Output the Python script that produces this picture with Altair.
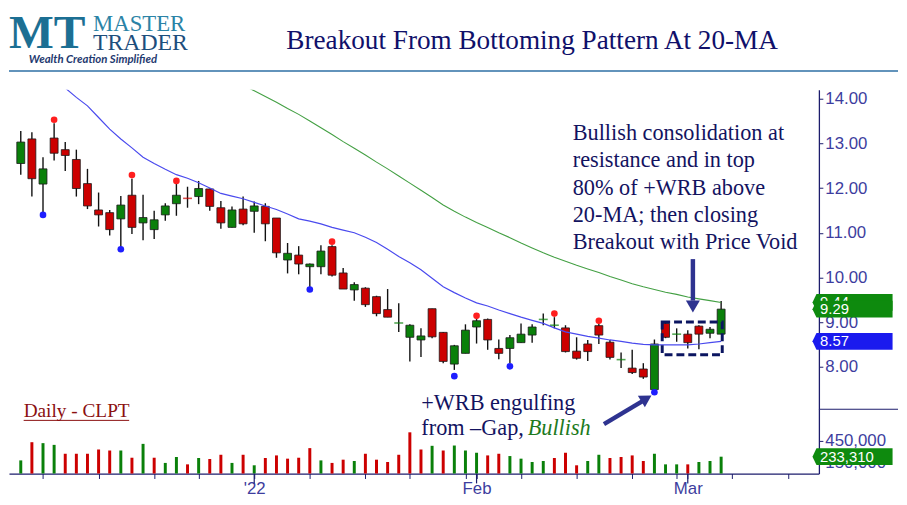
import json
import altair as alt
import pandas as pd

# ---------------- data (bar 0 = 2 Dec 2021 ... bar 63 = 4 Mar 2022) ----------------
idx = list(range(64))
opens = [12.55, 13.10, 12.09, 13.12, 12.86, 12.64, 12.10, 11.51, 11.45, 11.31,
         11.84, 11.22, 11.07, 11.40, 11.65, 11.77, 11.81, 11.98, 11.56, 11.12,
         11.53, 11.48, 11.59, 11.33, 10.39, 10.50, 10.24, 10.24, 10.69, 10.10,
         9.72, 9.76, 9.57, 9.28, 8.98, 8.66, 8.60, 9.30, 8.77, 8.06,
         8.30, 8.89, 9.06, 8.41, 8.41, 8.54, 8.71, 9.06, 8.93, 8.87,
         8.35, 8.51, 8.92, 8.55, 8.16, 7.97, 7.95, 7.49, 8.97, 8.73,
         8.73, 8.91, 8.75, 8.73]
highs = [13.28, 13.25, 12.69, 13.45, 13.03, 12.86, 12.43, 11.90, 11.51, 11.82,
         12.21, 11.85, 11.49, 11.66, 12.10, 12.03, 12.16, 11.99, 11.71, 11.59,
         11.81, 11.70, 11.66, 11.33, 10.77, 10.70, 10.31, 10.72, 10.72, 10.21,
         9.89, 9.78, 9.59, 9.74, 9.42, 8.95, 8.86, 9.30, 8.78, 8.49,
         8.95, 9.09, 9.08, 8.61, 8.71, 8.97, 8.95, 9.19, 9.11, 8.93,
         8.66, 8.60, 8.97, 8.60, 8.32, 8.38, 8.08, 8.61, 9.00, 8.86,
         8.82, 8.93, 8.89, 9.47]
lows = [12.30, 11.81, 11.40, 12.62, 12.38, 11.81, 11.53, 11.14, 10.94, 10.63,
        10.97, 10.83, 10.86, 11.27, 11.38, 11.56, 11.64, 11.49, 11.09, 11.12,
        11.17, 11.00, 10.81, 10.44, 10.09, 10.07, 9.78, 10.07, 10.02, 9.74,
        9.48, 9.34, 9.13, 9.11, 8.78, 8.12, 8.22, 8.64, 8.08, 7.93,
        8.30, 8.52, 8.38, 8.17, 8.08, 8.54, 8.54, 8.93, 8.86, 8.32,
        8.16, 8.13, 8.51, 8.16, 7.97, 7.84, 7.73, 7.45, 8.64, 8.56,
        8.41, 8.39, 8.64, 8.73]
closes = [13.03, 12.21, 12.43, 12.78, 12.73, 11.99, 11.60, 11.40, 11.07, 11.62,
          11.12, 11.34, 11.29, 11.60, 11.84, 11.77, 11.99, 11.59, 11.22, 11.51,
          11.20, 11.60, 11.20, 10.55, 10.54, 10.30, 10.30, 10.59, 10.05, 9.74,
          9.84, 9.39, 9.19, 9.11, 8.98, 8.93, 8.69, 8.67, 8.12, 8.47,
          8.82, 9.03, 8.60, 8.30, 8.65, 8.73, 8.89, 9.06, 8.93, 8.34,
          8.19, 8.34, 8.71, 8.21, 8.16, 7.87, 7.77, 8.51, 8.66, 8.73,
          8.54, 8.73, 8.84, 9.29]
doji_red = [15]  # doji crosses drawn in red

volumes = [182000, 434000, 421000, 397000, 274000, 274000, 274000, 333000, 319000, 319000,
           219000, 411000, 219000, 147000, 229000, 127000, 215000, 201000, 260000, 147000,
           260000, 114000, 215000, 251000, 206000, 219000, 352000, 182000, 147000, 192000,
           174000, 274000, 192000, 160000, 260000, 571000, 333000, 384000, 319000, 388000,
           319000, 288000, 251000, 274000, 242000, 206000, 160000, 174000, 215000, 288000,
           114000, 174000, 260000, 215000, 229000, 251000, 174000, 274000, 127000, 127000,
           127000, 160000, 174000, 233310]
vol_dir = list("GRGGRRRRRG" "RGRGGRGRRG" "RGRRRRRGRR" "GRRRRRRGRG"
               "GGRRGGGGRR" "RGGRRRRGGG" "RGGG")

ma20_idx = list(range(3, 64))
ma20 = [14.45, 14.24, 14.03, 13.84, 13.58, 13.32, 13.10, 12.90, 12.69, 12.55,
        12.42, 12.30, 12.22, 12.12, 12.00, 11.88, 11.82, 11.76, 11.68, 11.60,
        11.52, 11.42, 11.31, 11.26, 11.20, 11.12, 11.06, 11.00, 10.90, 10.78,
        10.63, 10.47, 10.33, 10.17, 9.98, 9.79, 9.66, 9.54, 9.43, 9.36,
        9.27, 9.19, 9.11, 9.04, 8.97, 8.87, 8.78, 8.73, 8.68, 8.64,
        8.60, 8.57, 8.53, 8.50, 8.49, 8.49, 8.49, 8.49, 8.51, 8.54, 8.57]
ma50_idx = list(range(20, 64))
ma50 = [14.30, 14.18, 14.05, 13.92, 13.78, 13.65, 13.50, 13.35, 13.20, 13.04,
        12.89, 12.74, 12.58, 12.43, 12.27, 12.11, 11.95, 11.79, 11.62, 11.48,
        11.35, 11.23, 11.12, 11.00, 10.89, 10.77, 10.66, 10.55, 10.45, 10.36,
        10.27, 10.19, 10.11, 10.02, 9.94, 9.86, 9.79, 9.73, 9.67, 9.62,
        9.56, 9.52, 9.48, 9.44]

red_dot_idx = [3, 10, 14, 28, 41, 48, 52]
red_dot_val = [13.53, 12.29, 12.16, 10.80, 9.14, 9.19, 9.03]
blue_dot_idx = [2, 9, 26, 39, 44, 57]
blue_dot_val = [11.40, 10.63, 9.73, 7.79, 8.01, 7.43]

price_ticks = [8, 9, 10, 11, 12, 13, 14]
vol_ticks = [150000, 450000]
tick_idx = [2, 7, 12, 16, 21, 26, 31, 35, 40, 41, 45, 50, 55, 59, 60, 64, 69]
major_idx = [21, 41, 60]
major_lab = ["'22", "Feb", "Mar"]

title_text = "Breakout From Bottoming Pattern At 20-MA"
callout_lines = ["Bullish consolidation at", "resistance and in top",
                 "80% of +WRB above", "20-MA; then closing",
                 "Breakout with Price Void"]

# ---------------- styling ----------------
AX = "#1c1c6c"
LAB = "#3d3d9e"
NAVY = "#13135f"
GREEN = "#0a800a"
RED = "#cc0000"
VGREEN = "#0f7f0f"
VRED = "#f01414"
SANS = "Liberation Sans"
SERIF = "Liberation Serif"

W = 819
xs = alt.Scale(domain=[-0.615, 71.35], nice=False, zero=False)
ys = alt.Scale(domain=[7.049, 14.199], nice=False, zero=False)
vs = alt.Scale(domain=[0, 890500], nice=False, zero=False)

yaxis = alt.Axis(orient="right", values=price_ticks, format=".2f", title=None, grid=False,
                 labelFont=SANS, labelFontSize=17, labelColor=LAB, domainColor=AX,
                 tickColor=AX, tickSize=4, labelPadding=2, domainWidth=1.3)
label_expr = " : ".join(
    f"datum.value == {k} ? {json.dumps(t)}" for k, t in zip(major_idx, major_lab)) + " : ''"
xaxis = alt.Axis(values=tick_idx, labelExpr=label_expr, title=None, grid=False,
                 labelFont=SANS, labelFontSize=17, labelColor=LAB, domainColor=AX,
                 tickColor=AX, tickSize=5, labelPadding=2, labelOverlap=False,
                 labelFlush=False, domainWidth=1.3)
vaxis = alt.Axis(orient="right", values=vol_ticks, format=",d", title=None, grid=False,
                 labelFont=SANS, labelFontSize=17, labelColor=LAB, domainColor=AX,
                 tickColor=AX, tickSize=4, labelPadding=2, domainWidth=1.3)


def X(f):
    return alt.X(f, type="quantitative", scale=xs, axis=None)


def Y(f):
    return alt.Y(f, type="quantitative", scale=ys, axis=yaxis)


def XV(f):
    return alt.X(f, type="quantitative", scale=xs, axis=xaxis)


def YV(f):
    return alt.Y(f, type="quantitative", scale=vs, axis=vaxis)


cdir = []
for k in idx:
    if closes[k] > opens[k]:
        cdir.append("up")
    elif closes[k] < opens[k]:
        cdir.append("down")
    else:
        cdir.append("down" if k in doji_red else "up")

cdf = pd.DataFrame({"i": idx, "o": opens, "h": highs, "l": lows, "c": closes, "d": cdir})
col = alt.Color("d:N", scale=alt.Scale(domain=["up", "down"], range=[GREEN, RED]), legend=None)

wick = alt.Chart(cdf).mark_rule(color="#111111", strokeWidth=1.4).encode(
    x=X("i"), y=Y("l"), y2="h")
body = alt.Chart(cdf).transform_filter("datum.o != datum.c").mark_bar(
    size=8, stroke="#1a1a1a", strokeWidth=0.8).encode(x=X("i"), y=Y("o"), y2="c", color=col)
doji = alt.Chart(cdf).transform_filter("datum.o == datum.c").mark_tick(
    orient="horizontal", thickness=1.6, size=9).encode(x=X("i"), y=Y("o"), color=col)

ma20_df = pd.DataFrame({"i": ma20_idx, "v": ma20})
ma50_df = pd.DataFrame({"i": ma50_idx, "v": ma50})
ma20_line = alt.Chart(ma20_df).mark_line(color="#4a4aee", strokeWidth=1.2, clip=True).encode(
    x=X("i"), y=Y("v"))
ma50_line = alt.Chart(ma50_df).mark_line(color="#44a044", strokeWidth=1.1, clip=True).encode(
    x=X("i"), y=Y("v"))

rdots = alt.Chart(pd.DataFrame({"i": red_dot_idx, "v": red_dot_val})).mark_circle(
    size=45, color="#ff1e1e", opacity=1).encode(x=X("i"), y=Y("v"))
bdots = alt.Chart(pd.DataFrame({"i": blue_dot_idx, "v": blue_dot_val})).mark_circle(
    size=45, color="#1e1eff", opacity=1).encode(x=X("i"), y=Y("v"))

# dashed consolidation box
box_df = pd.DataFrame({"i1": [57.7], "i2": [63.1], "p1": [9.00], "p2": [8.27]})
box = alt.Chart(box_df).mark_rect(fillOpacity=0, stroke="#0b1560", strokeWidth=3,
                                  strokeDash=[8, 4]).encode(x=X("i1"), x2="i2", y=Y("p1"), y2="p2")

# arrows
ARW = "#2e3390"
arr1 = pd.DataFrame({"x": [60.46], "y": [10.41], "x2": [60.46], "y2": [9.48],
                     "hx": [60.46], "hy": [9.35]})
arr2 = pd.DataFrame({"x": [52.46], "y": [6.716], "x2": [55.89], "y2": [7.225],
                     "hx": [56.28], "hy": [7.29]})
shaft1 = alt.Chart(arr1).mark_rule(color=ARW, strokeWidth=4.5).encode(
    x=X("x"), y=Y("y"), x2="x2", y2="y2")
head1 = alt.Chart(arr1).mark_point(shape="triangle-down", filled=True, size=200,
                                   color=ARW, opacity=1).encode(x=X("hx"), y=Y("hy"))
shaft2 = alt.Chart(arr2).mark_rule(color=ARW, strokeWidth=4.5).encode(
    x=X("x"), y=Y("y"), x2="x2", y2="y2")
head2 = alt.Chart(arr2).mark_point(shape="triangle-up", filled=True, size=190,
                                   color=ARW, opacity=1, angle=59).encode(x=X("hx"), y=Y("hy"))

# text annotations
callout = alt.Chart(pd.DataFrame({"x": [49.65], "y": [13.07], "t": ["\n".join(callout_lines)]})).mark_text(
    align="left", baseline="alphabetic", font=SERIF, fontSize=22.5, color=NAVY,
    lineBreak="\n", lineHeight=27.5).encode(x=X("x"), y=Y("y"), text="t:N")
wrb1 = alt.Chart(pd.DataFrame({"x": [36.03], "y": [7.026], "t": ["+WRB engulfing"]})).mark_text(
    align="left", baseline="alphabetic", font=SERIF, fontSize=22.5, color=NAVY).encode(
    x=X("x"), y=Y("y"), text="t:N")
wrb2 = alt.Chart(pd.DataFrame({"x": [36.03], "y": [6.47], "t": ["from \u2013Gap,"]})).mark_text(
    align="left", baseline="alphabetic", font=SERIF, fontSize=22.5, color=NAVY).encode(
    x=X("x"), y=Y("y"), text="t:N")
wrb3 = alt.Chart(pd.DataFrame({"x": [45.6], "y": [6.47], "t": ["Bullish"]})).mark_text(
    align="left", baseline="alphabetic", font=SERIF, fontSize=22.5, fontStyle="italic",
    color="#1d7a1d").encode(x=X("x"), y=Y("y"), text="t:N")
daily = alt.Chart(pd.DataFrame({"x": [0.26], "y": [6.87], "t": ["Daily - CLPT"]})).mark_text(
    align="left", baseline="alphabetic", font=SERIF, fontSize=19.5, color="#8b1010").encode(
    x=X("x"), y=Y("y"), text="t:N")
daily_ul = alt.Chart(pd.DataFrame({"x": [0.26], "x2": [9.75], "y": [6.80]})).mark_rule(
    color="#8b1010", strokeWidth=1).encode(x=X("x"), x2="x2", y=Y("y"))

TAG = "M -1 0 L -0.9 -0.21 L 1 -0.21 L 1 0.21 L -0.9 0.21 Z"


def price_tag(val, txt, color):
    d = pd.DataFrame({"cx": [74.82], "tx": [71.9], "v": [val], "t": [txt]})
    shape = alt.Chart(d).mark_point(shape=TAG, size=6561, filled=True, color=color,
                                    opacity=1, strokeWidth=0).encode(x=X("cx"), y=Y("v"))
    label = alt.Chart(d).mark_text(align="left", baseline="middle", font=SANS, fontSize=15,
                                   color="#ffffff").encode(x=X("tx"), y=Y("v"), text="t:N")
    return [shape, label]


tags = []
tags += price_tag(ma50[-1], f"{ma50[-1]:.2f}", "#0e8a0e")
tags += price_tag(closes[-1], f"{closes[-1]:.2f}", "#0e8a0e")
tags += price_tag(ma20[-1], f"{ma20[-1]:.2f}", "#1a1aee")

price = alt.layer(
    wick, body, doji, ma50_line, ma20_line, rdots, bdots, box,
    shaft1, head1, shaft2, head2, callout, wrb1, wrb2, wrb3, daily, daily_ul, *tags
).properties(width=W, height=323)

# ---------------- volume panel ----------------
vdf = pd.DataFrame({"i": idx, "v": volumes, "d": vol_dir})
vbars = alt.Chart(vdf).mark_bar(size=3).encode(
    x=XV("i"), y=YV("v"),
    color=alt.Color("d:N", scale=alt.Scale(domain=["G", "R"], range=[VGREEN, VRED]), legend=None))
major = alt.Chart(pd.DataFrame({"i": major_idx})).mark_rule(color=AX, strokeWidth=1.2).encode(
    x=XV("i"), y=alt.value(65), y2=alt.value(75))
sep = alt.Chart(pd.DataFrame({"k": [0]})).mark_rule(color=AX, strokeWidth=1.2).encode(
    x=alt.value(W), x2=alt.value(W + 80), y=alt.value(0))
vt = pd.DataFrame({"cx": [74.82], "tx": [71.9], "v": [volumes[-1]], "t": [f"{volumes[-1]:,}"]})
vtag = alt.Chart(vt).mark_point(shape=TAG, size=6561, filled=True, color="#0e8a0e",
                                opacity=1, strokeWidth=0).encode(x=XV("cx"), y=YV("v"))
vtag_t = alt.Chart(vt).mark_text(align="left", baseline="middle", font=SANS, fontSize=15,
                                 color="#ffffff").encode(x=XV("tx"), y=YV("v"), text="t:N")
volume = alt.layer(vbars, major, sep, vtag, vtag_t).properties(width=W, height=65)

# ---------------- header ----------------
hd = alt.Chart(pd.DataFrame({"k": [0]}))
logo_mt = hd.mark_text(align="left", baseline="alphabetic", font=SERIF, fontSize=48,
                       fontWeight="bold", color="#1c6f93").encode(
    x=alt.value(0), y=alt.value(37), text=alt.value("MT"))
logo_m = hd.mark_text(align="left", baseline="alphabetic", font=SERIF, fontSize=23,
                      color="#2b83a6").encode(x=alt.value(85), y=alt.value(20), text=alt.value("MASTER"))
logo_t = hd.mark_text(align="left", baseline="alphabetic", font=SERIF, fontSize=24,
                      color="#1d4e7c").encode(x=alt.value(85), y=alt.value(39), text=alt.value("TRADER"))
logo_w = hd.mark_text(align="left", baseline="alphabetic", font="Lato", fontSize=11.5,
                      fontWeight="bold", fontStyle="italic", color="#1f3a70").encode(
    x=alt.value(20), y=alt.value(52), text=alt.value("Wealth Creation Simplified"))
title = hd.mark_text(align="center", baseline="alphabetic", font=SERIF, fontSize=27.5,
                     color="#10106a").encode(x=alt.value(529), y=alt.value(38), text=alt.value(title_text))
hline = hd.mark_rule(color="#2e6fa5", strokeWidth=1.5).encode(
    x=alt.value(0), x2=alt.value(899), y=alt.value(60))
header = alt.layer(logo_mt, logo_m, logo_t, logo_w, title, hline).properties(width=W, height=79)

chart = alt.vconcat(header, price, volume, spacing=0, bounds="flush").properties(
    padding=0, background="white"
).configure_view(stroke=None)

chart.save("out.html", embed_options={"renderer": "svg", "actions": False})
